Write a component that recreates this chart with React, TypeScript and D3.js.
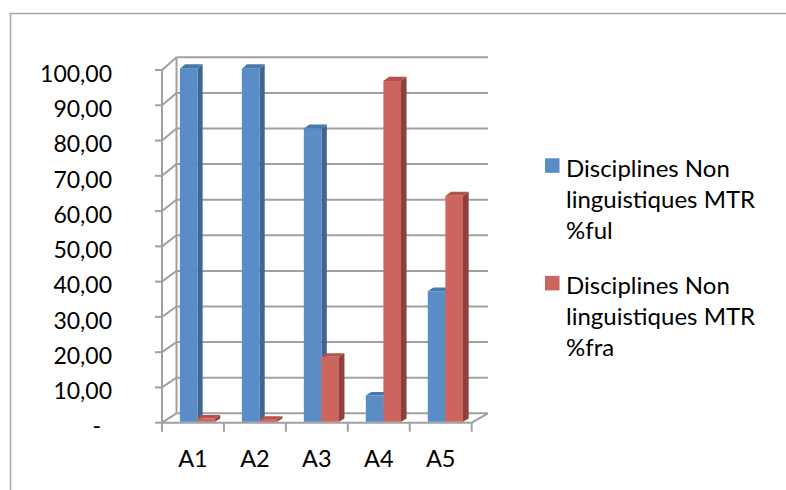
import * as d3 from "d3";

// values
const CATEGORIES = ["A1", "A2", "A3", "A4", "A5"];
const SERIES_FUL = [100, 100, 83, 7.5, 37];
const SERIES_FRA = [1, 0.6, 18.4, 96.5, 64];
const Y_TICKS = [0, 10, 20, 30, 40, 50, 60, 70, 80, 90, 100];
const LEGEND_FUL = ["Disciplines Non", "linguistiques MTR", "%ful"];
const LEGEND_FRA = ["Disciplines Non", "linguistiques MTR", "%fra"];

const W = 786;
const H = 490;
const FONT = "Lato, 'Open Sans', sans-serif";
const GRID = "#a0a0a0";

const COLORS = {
  ful: { front: "#5a8dc6", side: "#3f6593", top: "#4b78ac" },
  fra: { front: "#cc655e", side: "#8d403c", top: "#b1524c" },
};

// front plane (z = 0) and back wall (z = 1) of the 3D box
const xFront = d3.scaleLinear().domain([0, CATEGORIES.length]).range([162, 471.7]);
const xBack = d3.scaleLinear().domain([0, CATEGORIES.length]).range([176.5, 488]);
const yFront = d3.scaleLinear().domain([0, 100]).range([422.7, 70]);
const yBack = d3.scaleLinear().domain([0, 100]).range([413.3, 57.3]);

const proj = (x: number, v: number, z: number): [number, number] => [
  xFront(x) + (xBack(x) - xFront(x)) * z,
  yFront(v) + (yBack(v) - yFront(v)) * z,
];

const poly = (pts: [number, number][]) => pts.map((p) => p.join(",")).join(" ");

const Z0 = 0.1;
const Z1 = 0.45;
const BAR_W = 0.284;
const BAR_OFF = 0.265;

const fmt = (d: number) => (d === 0 ? "-" : d3.format(".2f")(d).replace(".", ","));

function Bar({ x0, v, c }: { x0: number; v: number; c: typeof COLORS.ful }) {
  const x1 = x0 + BAR_W;
  return (
    <g>
      <polygon
        points={poly([proj(x1, 0, Z0), proj(x1, 0, Z1), proj(x1, v, Z1), proj(x1, v, Z0)])}
        fill={c.side}
      />
      <polygon
        points={poly([proj(x0, v, Z0), proj(x1, v, Z0), proj(x1, v, Z1), proj(x0, v, Z1)])}
        fill={c.top}
      />
      <polygon
        points={poly([proj(x0, 0, Z0), proj(x1, 0, Z0), proj(x1, v, Z0), proj(x0, v, Z0)])}
        fill={c.front}
      />
    </g>
  );
}

export default function App() {
  const n = CATEGORIES.length;
  return (
    <svg
      width={W}
      height={H}
      style={{ position: "absolute", left: 0, top: 0, background: "#fff" }}
      fontFamily={FONT}
    >
      {/* outer chart border (runs off the right and bottom) */}
      <rect x={10.5} y={13.5} width={900} height={600} fill="none" stroke="#a6a6a6" strokeWidth={1.5} />

      {/* back wall gridlines and left wall diagonals */}
      <g stroke={GRID} strokeWidth={2} fill="none">
        {Y_TICKS.map((t) => (
          <g key={t}>
            <line x1={xBack(0)} x2={xBack(n)} y1={yBack(t)} y2={yBack(t)} />
            <line x1={xFront(0)} y1={yFront(t)} x2={xBack(0)} y2={yBack(t)} />
            <line x1={xFront(0) - 7} x2={xFront(0)} y1={yFront(t)} y2={yFront(t)} />
          </g>
        ))}
        <line x1={xBack(0)} x2={xBack(0)} y1={yBack(100)} y2={yBack(0)} />
        <line x1={xFront(0)} x2={xFront(0)} y1={yFront(100)} y2={yFront(0) + 9} />
        <line x1={xFront(0)} x2={xFront(n)} y1={yFront(0)} y2={yFront(0)} />
        <line x1={xFront(n)} y1={yFront(0)} x2={xBack(n)} y2={yBack(0)} />
        {d3.range(1, n + 1).map((i) => (
          <line key={i} x1={xFront(i)} x2={xFront(i)} y1={yFront(0)} y2={yFront(0) + 9} />
        ))}
      </g>

      {/* bars */}
      {CATEGORIES.map((c, i) => (
        <g key={c}>
          <Bar x0={i + BAR_OFF} v={SERIES_FUL[i]} c={COLORS.ful} />
          <Bar x0={i + BAR_OFF + BAR_W} v={SERIES_FRA[i]} c={COLORS.fra} />
        </g>
      ))}

      {/* y tick labels */}
      <g fontSize={23} fill="#000">
        {Y_TICKS.map((t) => (
          <text key={t} x={t === 0 ? 101 : 112} y={yFront(t) + 11.7} textAnchor="end">
            {fmt(t)}
          </text>
        ))}
      </g>

      {/* category labels */}
      <g fontSize={23.5} fill="#000">
        {CATEGORIES.map((c, i) => (
          <text key={c} x={xFront(i + 0.5)} y={466.7} textAnchor="middle">
            {c}
          </text>
        ))}
      </g>

      {/* legend */}
      <g fontSize={24} fill="#000">
        {[
          { lines: LEGEND_FUL, color: COLORS.ful.front, y: 176.7 },
          { lines: LEGEND_FRA, color: COLORS.fra.front, y: 294.3 },
        ].map((e, k) => (
          <g key={k}>
            <rect x={545} y={e.y - 18.4} width={14.5} height={14.5} fill={e.color} />
            {e.lines.map((l, j) => (
              <text key={j} x={566} y={e.y + j * 31}>
                {l}
              </text>
            ))}
          </g>
        ))}
      </g>
    </svg>
  );
}
